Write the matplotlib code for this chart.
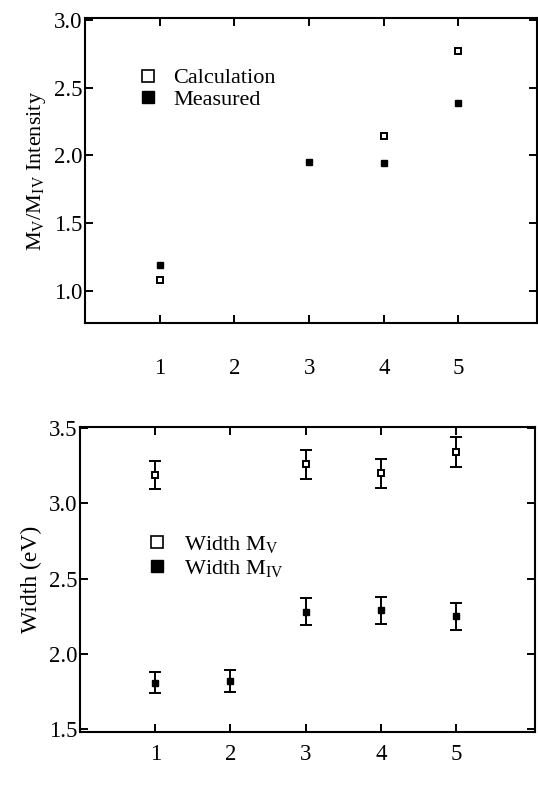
import matplotlib
matplotlib.use("Agg")
import matplotlib.pyplot as plt
from matplotlib.lines import Line2D

plt.rcParams['font.family'] = ['Liberation Serif', 'DejaVu Serif']
plt.rcParams['mathtext.fontset'] = 'custom'
plt.rcParams['mathtext.rm'] = 'Liberation Serif'
plt.rcParams['mathtext.it'] = 'Liberation Serif:italic'

# Intensity ratio M_V / M_IV
calc_x = [1, 4, 5]
calc_ratio = [1.08, 2.14, 2.77]
meas_x = [1, 3, 4, 5]
meas_ratio = [1.19, 1.95, 1.94, 2.39]

# Line widths with error bars
width_x = [1, 2, 3, 4, 5]
mv_x = [1, 3, 4, 5]
width_mv = [3.19, 3.26, 3.20, 3.34]
width_mv_err = [0.093, 0.097, 0.097, 0.10]
width_miv = [1.806, 1.82, 2.28, 2.29, 2.25]
width_miv_err = [0.07, 0.073, 0.09, 0.09, 0.09]

x_ticks = [1, 2, 3, 4, 5]
x_ticklabels = ['1', '2', '3', '4', '5']

fig = plt.figure(figsize=(5.38, 7.87), dpi=100)

ax1 = fig.add_axes([0.158, 0.5896, 0.840, 0.3875])
ax2 = fig.add_axes([0.1487, 0.0699, 0.8457, 0.3875])


def style(ax, label_pad):
    for s in ax.spines.values():
        s.set_linewidth(1.5)
    ax.tick_params(direction='in', length=6, width=1.4, top=True, right=True,
                   labelsize=16.5)
    ax.tick_params(axis='x', pad=label_pad)
    ax.tick_params(axis='y', pad=2)
    ax.set_xlim(0, 6.05)
    ax.set_xticks(x_ticks)
    ax.set_xticklabels(x_ticklabels)


# Upper panel
style(ax1, 25)
ax1.plot(calc_x, calc_ratio, linestyle='none', marker='s', markersize=5,
         markerfacecolor='white', markeredgecolor='black', markeredgewidth=1.4)
ax1.plot(meas_x, meas_ratio, linestyle='none', marker='s', markersize=5,
         color='black')
ax1.set_ylim(0.76, 3.015)
ax1.set_yticks([1.0, 1.5, 2.0, 2.5, 3.0])
ax1.set_yticklabels(['1.0', '1.5', '2.0', '2.5', '3.0'])
ax1.set_ylabel(r'M$_\mathrm{V}$/M$_\mathrm{IV}$ Intensity', fontsize=16,
               labelpad=4)
h1 = [Line2D([], [], linestyle='none', marker='s', markersize=8,
             markerfacecolor='white', markeredgecolor='black',
             markeredgewidth=1.2),
      Line2D([], [], linestyle='none', marker='s', markersize=8,
             color='black')]
ax1.legend(h1, ['Calculation', 'Measured'], loc='upper left',
           bbox_to_anchor=(0.095, 0.866), frameon=False, fontsize=16,
           handlelength=1.0, handletextpad=0.65, labelspacing=0.03,
           borderaxespad=0)

# Lower panel
style(ax2, 9)
ax2.errorbar(mv_x, width_mv, yerr=width_mv_err, fmt='s', markersize=5,
             markerfacecolor='white', markeredgecolor='black',
             markeredgewidth=1.4, ecolor='black', elinewidth=1.4, capsize=4,
             capthick=1.4)
ax2.errorbar(width_x, width_miv, yerr=width_miv_err, fmt='s', markersize=5,
             color='black', ecolor='black', elinewidth=1.4, capsize=4,
             capthick=1.4)
ax2.set_ylim(1.48, 3.507)
ax2.set_yticks([1.5, 2.0, 2.5, 3.0, 3.5])
ax2.set_yticklabels(['1.5', '2.0', '2.5', '3.0', '3.5'])
ax2.set_ylabel('Width (eV)', fontsize=17, labelpad=5)
h2 = [Line2D([], [], linestyle='none', marker='s', markersize=8,
             markerfacecolor='white', markeredgecolor='black',
             markeredgewidth=1.2),
      Line2D([], [], linestyle='none', marker='s', markersize=8,
             color='black')]
ax2.legend(h2, [r'Width M$_\mathrm{V}$', r'Width M$_\mathrm{IV}$'],
           loc='upper left', bbox_to_anchor=(0.125, 0.68), frameon=False,
           fontsize=16, handlelength=1.0, handletextpad=0.7,
           labelspacing=0.15, borderaxespad=0)

fig.savefig('out.png', dpi=100)
